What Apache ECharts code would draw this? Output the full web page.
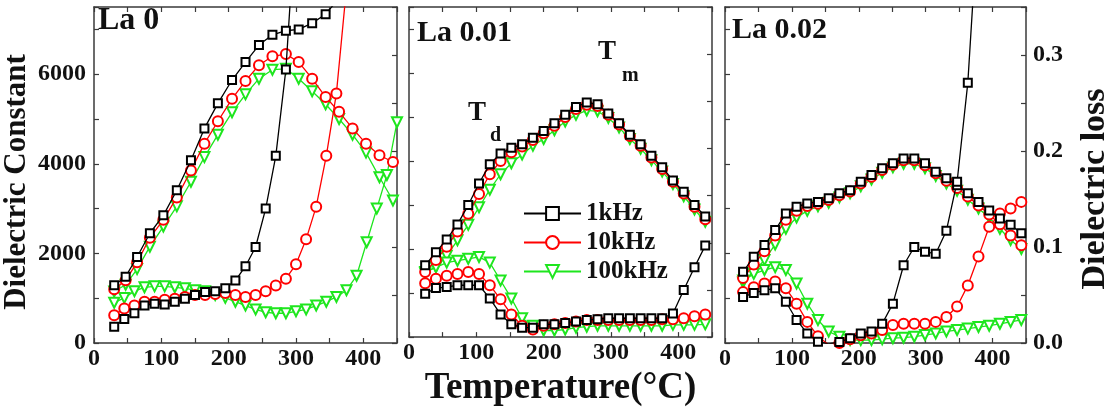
<!DOCTYPE html>
<html><head><meta charset="utf-8">
<script src="https://cdn.jsdelivr.net/npm/echarts@6/dist/echarts.min.js"></script>
<style>html,body{margin:0;padding:0;background:#fff}#c{width:1113px;height:412px}</style>
</head><body><div id="c"></div>
<script>
// ---------- data ----------
const freqs = ['1kHz', '10kHz', '100kHz'];
const panelLabels = ['La 0', 'La 0.01', 'La 0.02'];

// Panel 1: La 0
const t1C = [30,47,64,83,103,123,144,164,184,205,225,245,265,285,304,324,344,364,384,404,424,444];
const p1C_1k   = [1290,1480,1920,2450,2850,3410,4080,4790,5350,5870,6270,6650,6880,6970,7000,7140,7340,7700];
const p1C_10k  = [1200,1400,1800,2350,2750,3250,3850,4450,4950,5450,5850,6200,6400,6450,6270,5900,5490,5160,4790,4450,4190,4040];
const p1C_100k = [1150,1300,1650,2150,2600,3050,3600,4150,4650,5150,5550,5900,6100,6120,5900,5620,5330,5000,4650,4250,3700,3180];
const t1L = [30,45,60,75,90,105,120,135,150,165,180,195,210,225,240,255,270,285,300,315,330,345,360,375,390,405,420,435,450];
const p1L_1k   = [0.017,0.025,0.031,0.039,0.041,0.040,0.043,0.046,0.050,0.053,0.054,0.057,0.065,0.080,0.100,0.140,0.195,0.285,0.45];
const p1L_10k  = [0.029,0.036,0.039,0.043,0.043,0.045,0.046,0.048,0.050,0.050,0.051,0.052,0.050,0.048,0.050,0.054,0.060,0.067,0.082,0.108,0.142,0.195,0.260,0.370,0.50];
const p1L_100k = [0.042,0.047,0.054,0.058,0.059,0.059,0.058,0.057,0.055,0.054,0.050,0.047,0.043,0.039,0.035,0.032,0.031,0.031,0.033,0.035,0.039,0.043,0.048,0.055,0.070,0.105,0.140,0.175,0.230];

// Panel 2: La 0.01
const t2 = [24,40,56,72,88,104,120,136,152,168,184,200,216,232,248,264,280,296,312,328,344,360,376,392,408,424,440];
const p2C_1k   = [1630,1930,2220,2560,3000,3490,3930,4170,4300,4380,4530,4680,4860,5050,5230,5330,5290,5080,4860,4600,4380,4120,3860,3560,3300,3000,2740];
const p2C_10k  = [1480,1750,2050,2400,2800,3250,3700,4000,4200,4330,4480,4630,4800,5000,5180,5280,5250,5050,4830,4570,4350,4080,3820,3530,3260,2960,2680];
const p2C_100k = [1450,1600,1850,2200,2550,2950,3350,3700,3950,4150,4350,4500,4700,4900,5050,5150,5130,4980,4760,4500,4280,4020,3760,3480,3200,2900,2620];
const p2L_1k   = [0.046,0.052,0.053,0.055,0.055,0.055,0.041,0.024,0.0135,0.010,0.010,0.0135,0.0135,0.015,0.0166,0.018,0.019,0.020,0.020,0.020,0.020,0.020,0.020,0.025,0.050,0.074,0.097];
const p2L_10k  = [0.057,0.062,0.065,0.067,0.069,0.067,0.055,0.040,0.024,0.012,0.008,0.012,0.0135,0.015,0.0166,0.018,0.018,0.018,0.018,0.018,0.018,0.018,0.019,0.019,0.020,0.022,0.024];
const p2L_100k = [0.069,0.074,0.079,0.081,0.083,0.085,0.079,0.060,0.041,0.020,0.012,0.007,0.007,0.008,0.010,0.011,0.012,0.012,0.012,0.012,0.012,0.012,0.012,0.013,0.013,0.013,0.0135];

// Panel 3: La 0.02
const t3 = [27,43,59,75,91,107,123,139,155,171,187,203,219,235,251,267,283,299,315,331,347,363,379,395,411,427,443];
const p3C_1k   = [1590,1925,2185,2520,2890,3040,3115,3150,3230,3340,3410,3600,3750,3900,4010,4120,4120,4010,3820,3680,3520,3340,3150,2960,2780,2640,2450];
const p3C_10k  = [1450,1750,2050,2400,2750,2950,3060,3110,3190,3300,3380,3560,3710,3860,3980,4080,4080,3970,3790,3620,3460,3270,3070,2870,2650,2400,2180];
const p3C_100k = [1350,1600,1850,2200,2550,2800,2950,3050,3130,3250,3340,3500,3650,3800,3920,4000,4000,3900,3730,3560,3400,3200,3000,2800,2550,2300,2100];
const p3L_1k   = [0.048,0.052,0.055,0.057,0.043,0.024,0.010,0.0014,-0.001,0.001,0.005,0.010,0.012,0.020,0.041,0.081,0.100,0.095,0.093,0.117,0.168,0.271,0.45];
const p3L_10k  = [0.053,0.058,0.062,0.064,0.057,0.041,0.022,0.007,-0.002,0.000,0.004,0.008,0.010,0.0135,0.0187,0.020,0.020,0.020,0.022,0.027,0.038,0.060,0.090,0.121,0.135,0.140,0.147];
const p3L_100k = [0.065,0.072,0.076,0.079,0.076,0.062,0.041,0.024,0.012,0.0066,0.003,0.003,0.003,0.004,0.005,0.0055,0.0066,0.0083,0.010,0.012,0.0135,0.015,0.0166,0.018,0.020,0.022,0.024];

// ---------- chart ----------
const FONT = '"Liberation Serif","Times New Roman",serif';
const INK = '#111';
const AX = '#3a3a3a';
const colors = ['#000000', '#ff0000', '#1ee61e'];
const symbols = ['emptyRect', 'emptyCircle', 'emptyTriangle'];
const symSizes = [8, 10, 10];
const symRot = [0, 0, 180];

const panels = [
  {tC: t1C, C: [p1C_1k, p1C_10k, p1C_100k], tL: t1L, L: [p1L_1k, p1L_10k, p1L_100k]},
  {tC: t2,  C: [p2C_1k, p2C_10k, p2C_100k], tL: t2,  L: [p2L_1k, p2L_10k, p2L_100k]},
  {tC: t3,  C: [p3C_1k, p3C_10k, p3C_100k], tL: t3,  L: [p3L_1k, p3L_10k, p3L_100k]}
];
const pairs = (t, v) => v.map((y, i) => [t[i], y]);

const gridPos = [{left: 93, width: 304}, {left: 409, width: 303}, {left: 725, width: 303}];
const grids = gridPos.map(g => ({left: g.left, width: g.width, top: 7, height: 336, show: false}));

const lineAx = {show: true, onZero: false, lineStyle: {color: AX, width: 1.5}};
const tickAx = {show: true, inside: true, length: 5, lineStyle: {color: AX, width: 1.2}};
const labelStyle = {fontFamily: FONT, fontWeight: 'bold', fontSize: 24, color: INK};

const xAxes = [];
for (let i = 0; i < 3; i++) {
  xAxes.push({
    type: 'value', gridIndex: i, min: 0, max: 450, interval: 50, position: 'bottom',
    axisLine: lineAx, axisTick: tickAx, splitLine: {show: false},
    axisLabel: Object.assign({margin: 4, formatter: v => (v % 100 === 0 ? String(v) : '')}, labelStyle),
    name: i === 1 ? 'Temperature(°C)' : '', nameLocation: 'middle', nameGap: 28,
    nameTextStyle: {fontFamily: FONT, fontWeight: 'bold', fontSize: 37, color: INK}
  });
}
for (let i = 0; i < 3; i++) {
  xAxes.push({
    type: 'value', gridIndex: i, min: 0, max: 450, interval: 50, position: 'top',
    axisLine: lineAx, axisTick: tickAx, splitLine: {show: false}, axisLabel: {show: false}
  });
}

const yAxes = [];
for (let i = 0; i < 3; i++) {
  yAxes.push({
    type: 'value', gridIndex: i, min: 0, max: 7500, interval: 1000, position: 'left',
    axisLine: lineAx, axisTick: tickAx, splitLine: {show: false},
    axisLabel: Object.assign({show: i === 0, margin: 8,
      formatter: v => (v % 2000 === 0 && v <= 6000 ? String(v) : '')}, labelStyle),
    name: i === 0 ? 'Dielectric Constant' : '', nameLocation: 'middle', nameGap: 62, nameRotate: 90,
    nameTextStyle: {fontFamily: FONT, fontWeight: 'bold', fontSize: 31, color: INK, padding: [0, 14, 0, 0]}
  });
}
for (let i = 0; i < 3; i++) {
  yAxes.push({
    type: 'value', gridIndex: i, min: 0, max: 0.35, interval: 0.05, position: 'right',
    axisLine: lineAx, axisTick: tickAx, splitLine: {show: false},
    axisLabel: Object.assign({show: i === 2, margin: 7,
      formatter: v => { const r = Math.round(v * 100); return (r % 10 === 0 && r <= 30) ? (r / 100).toFixed(1) : ''; }}, labelStyle),
    name: i === 2 ? 'Dielectric loss' : '', nameLocation: 'middle', nameGap: 52, nameRotate: 90,
    nameTextStyle: {fontFamily: FONT, fontWeight: 'bold', fontSize: 34, color: INK, padding: [0, 28, 0, 0]}
  });
}

const series = [];
panels.forEach((p, pi) => {
  [['C', 'tC', pi], ['L', 'tL', pi + 3]].forEach(([key, tkey, yi]) => {
    p[key].forEach((vals, fi) => {
      series.push({
        type: 'line', name: freqs[fi], xAxisIndex: pi, yAxisIndex: yi,
        data: pairs(p[tkey], vals), clip: true,
        symbol: symbols[fi], symbolSize: symSizes[fi], symbolRotate: symRot[fi],
        lineStyle: {color: colors[fi], width: 1.3},
        itemStyle: {color: colors[fi], borderWidth: 1.3},
        z: 3 - fi
      });
    });
  });
});

const graphic = [
  {type: 'text', left: 98, top: 5, style: {text: panelLabels[0], font: 'bold 32px ' + FONT, fill: INK}},
  {type: 'text', left: 417, top: 18, style: {text: panelLabels[1], font: 'bold 30px ' + FONT, fill: INK}},
  {type: 'text', left: 732, top: 15, style: {text: panelLabels[2], font: 'bold 30px ' + FONT, fill: INK}},
  {type: 'text', left: 598, top: 39, style: {text: 'T', font: 'bold 27px ' + FONT, fill: INK}},
  {type: 'text', left: 622, top: 66, style: {text: 'm', font: 'bold 20px ' + FONT, fill: INK}},
  {type: 'text', left: 468, top: 100, style: {text: 'T', font: 'bold 27px ' + FONT, fill: INK}},
  {type: 'text', left: 490, top: 126, style: {text: 'd', font: 'bold 20px ' + FONT, fill: INK}}
];

const chart = echarts.init(document.getElementById('c'), null, {renderer: 'canvas'});
chart.setOption({
  animation: false,
  backgroundColor: '#fff',
  grid: grids,
  xAxis: xAxes,
  yAxis: yAxes,
  legend: {
    data: freqs, orient: 'vertical', left: 518, top: 196, itemWidth: 57, itemHeight: 16, itemGap: 4,
    selectedMode: false, textStyle: {fontFamily: FONT, fontWeight: 'bold', fontSize: 25, color: INK}
  },
  graphic: graphic,
  series: series
});
</script></body></html>
